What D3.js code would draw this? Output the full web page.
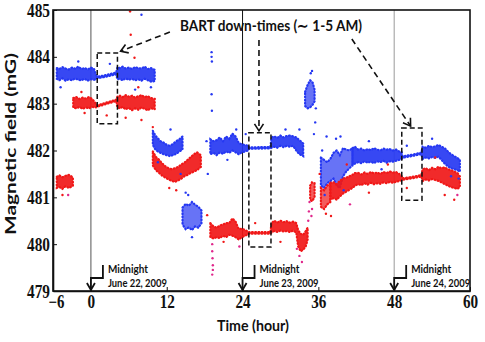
<!DOCTYPE html>
<html>
<head>
<meta charset="utf-8">
<script src="https://cdn.jsdelivr.net/npm/d3@7"></script>
<style>
  body { margin: 0; background: #fff; }
  svg { display: block; }
  .tick text { font-family: "Liberation Serif", serif; font-weight: bold; font-size: 18px; fill: #111; }
  .lbl { font-family: Lato, "Open Sans", sans-serif; font-weight: bold; fill: #111; }
</style>
</head>
<body>
<svg width="485" height="342"></svg>
<script>
// dense band samples: time (h), lower and upper edge of the dot cloud (mG); null = gap
const blueT = [-5.4, -5.0, -4.5, -4.0, -3.5, -3.0, -2.5, -2.0, -1.5, -1.0, -0.5, 0.0, 0.5, 0.8,
  1.0, 2.0, 3.0, 4.0,
  4.2, 4.6, 5.0, 5.5, 6.0, 6.5, 7.0, 7.5, 8.0, 8.5, 9.0, 9.5, 10.1, null,
  9.8, 10.2, 10.6, 11.0, 11.5, 12.0, 12.5, 13.0, 13.5, 14.0, 14.5, null,
  18.9, 19.4, 19.9, 20.4, 20.9, 21.4, 21.9, 22.4, 22.9, 23.4, 23.9, 24.4, 24.9,
  25.0, 26.5, 28.4,
  28.6, 29.0, 29.5, 30.0, 30.5, 31.0, 31.5, 32.0, 32.5, 33.0, 33.6, null,
  41.4, 41.8, 42.3, 42.8, 43.3, 43.8, 44.3, 44.8, 45.3, 45.8, 46.3, 46.8, 47.3, 47.8, 48.3, 48.8, 49.2,
  49.3, 50.8, 52.3,
  52.5, 53.0, 53.5, 54.0, 54.5, 55.0, 55.5, 56.0, 56.5, 57.0, 57.5, 58.0, 58.4];
const blueLo = [483.53, 483.50, 483.54, 483.49, 483.52, 483.50, 483.54, 483.51, 483.50, 483.53, 483.49, 483.52, 483.51, 483.52,
  483.545, 483.565, 483.595, 483.625,
  483.52, 483.53, 483.50, 483.54, 483.51, 483.53, 483.50, 483.52, 483.49, 483.53, 483.50, 483.47, 483.48, null,
  482.12, 482.02, 481.98, 481.95, 481.92, 481.90, 481.88, 481.90, 481.93, 481.98, 482.02, null,
  481.92, 481.95, 481.90, 481.96, 481.93, 481.98, 481.95, 482.00, 481.96, 481.92, 481.96, 481.98, 482.00,
  482.035, 482.04, 482.045,
  482.06, 482.08, 482.06, 482.10, 482.07, 482.10, 482.08, 482.10, 482.00, 481.92, 481.88, null,
  481.70, 481.72, 481.75, 481.73, 481.77, 481.74, 481.76, 481.73, 481.77, 481.75, 481.78, 481.74, 481.77, 481.76, 481.78, 481.80, 481.82,
  481.845, 481.88, 481.925,
  481.82, 481.85, 481.83, 481.86, 481.84, 481.87, 481.80, 481.72, 481.66, 481.62, 481.60, 481.58, 481.55];
const blueHi = [483.76, 483.74, 483.78, 483.75, 483.73, 483.77, 483.75, 483.79, 483.74, 483.76, 483.73, 483.77, 483.74, 483.62,
  483.575, 483.60, 483.63, 483.665,
  483.78, 483.76, 483.79, 483.75, 483.77, 483.74, 483.78, 483.76, 483.75, 483.79, 483.74, 483.76, 483.72, null,
  482.42, 482.32, 482.26, 482.20, 482.17, 482.12, 482.10, 482.14, 482.20, 482.24, 482.30, null,
  482.24, 482.20, 482.22, 482.28, 482.20, 482.30, 482.25, 482.36, 482.30, 482.16, 482.13, 482.12, 482.10,
  482.065, 482.07, 482.075,
  482.28, 482.30, 482.27, 482.32, 482.28, 482.31, 482.32, 482.30, 482.28, 482.22, 482.15, null,
  482.05, 482.08, 482.02, 482.04, 482.00, 482.03, 482.01, 482.05, 482.02, 482.00, 482.04, 482.02, 482.03, 482.00, 482.02, 481.98, 481.96,
  481.875, 481.91, 481.955,
  482.08, 482.06, 482.10, 482.07, 482.09, 482.12, 482.08, 482.05, 481.98, 481.92, 481.88, 481.84, 481.80];

// sparse clouds (loosely scattered dots)
const blueSparseT = [14.5, 15.0, 15.5, 16.0, 16.5, 17.0, 17.5, null,
  33.9, 34.3, 34.7, 35.1, 35.4, null,
  36.4, 36.9, 37.4, 37.9, 38.4, 38.9, 39.4, 39.9, 40.4, 40.9, 41.4];
const blueSparseLo = [480.42, 480.32, 480.36, 480.30, 480.38, 480.35, 480.45, null,
  482.95, 482.90, 482.92, 482.98, 483.05, null,
  481.25, 481.20, 481.30, 481.35, 481.40, 481.25, 481.20, 481.45, 481.55, 481.62, 481.68];
const blueSparseHi = [480.78, 480.86, 480.82, 480.90, 480.84, 480.80, 480.72, null,
  483.25, 483.40, 483.50, 483.45, 483.30, null,
  481.85, 481.80, 481.75, 481.82, 481.95, 482.00, 481.90, 482.05, 482.02, 482.00, 482.05];

const redT = [-5.4, -5.0, -4.5, -4.0, -3.5, -3.0, -2.85, null,
  -2.8, -2.3, -1.8, -1.3, -0.8, -0.3, 0.2, 0.8,
  1.0, 2.0, 3.0, 4.0,
  4.2, 4.6, 5.0, 5.5, 6.0, 6.5, 7.0, 7.5, 8.0, 8.5, 9.0, 9.5, 10.1, null,
  9.8, 10.3, 10.8, 11.3, 11.8, 12.3, 12.8, 13.3, 13.8, 14.3, 14.8, 15.3, 15.8, 16.3, 16.8, 17.4, null,
  18.9, 19.4, 19.9, 20.4, 20.9, 21.4, 21.9, 22.4, 22.9, 23.4, 23.9, 24.4, 24.9,
  25.0, 26.5, 28.4,
  28.6, 29.0, 29.5, 30.0, 30.5, 31.0, 31.5, 32.0, 32.5, 32.8, 33.2, 33.6, 34.0, 34.3, null,
  37.9, 38.4, 38.9, 39.4, 39.9, 40.4, 40.9, 41.4, 41.8,
  42.3, 42.8, 43.3, 43.8, 44.3, 44.8, 45.3, 45.8, 46.3, 46.8, 47.3, 47.8, 48.3, 48.8, 49.2,
  49.3, 50.8, 52.3,
  52.5, 53.0, 53.5, 54.0, 54.5, 55.0, 55.5, 56.0, 56.5, 57.0, 57.5, 58.0, 58.4];
const redLo = [481.20, 481.22, 481.18, 481.24, 481.20, 481.23, 481.25, null,
  482.92, 482.90, 482.93, 482.89, 482.92, 482.90, 482.93, 482.92,
  482.935, 482.975, 483.015, 483.055,
  482.92, 482.90, 482.93, 482.88, 482.91, 482.86, 482.90, 482.87, 482.92, 482.89, 482.86, 482.90, 482.88, null,
  481.68, 481.58, 481.52, 481.46, 481.42, 481.38, 481.35, 481.33, 481.36, 481.40, 481.45, 481.48, 481.52, 481.55, 481.58, 481.65, null,
  480.15, 480.12, 480.15, 480.13, 480.18, 480.15, 480.20, 480.18, 480.15, 480.10, 480.15, 480.18, 480.21,
  480.225, 480.225, 480.225,
  480.25, 480.28, 480.26, 480.29, 480.27, 480.28, 480.26, 480.29, 480.25, 479.95, 479.85, 479.88, 479.95, 480.10, null,
  480.95, 480.98, 480.95, 481.02, 481.08, 481.12, 481.16, 481.20, 481.25,
  481.28, 481.26, 481.30, 481.27, 481.31, 481.28, 481.30, 481.29, 481.32, 481.30, 481.33, 481.31, 481.33, 481.35, 481.36,
  481.375, 481.405, 481.445,
  481.35, 481.38, 481.36, 481.39, 481.37, 481.35, 481.32, 481.28, 481.25, 481.22, 481.20, 481.18, 481.22];
const redHi = [481.44, 481.47, 481.43, 481.46, 481.48, 481.44, 481.42, null,
  483.12, 483.14, 483.10, 483.13, 483.11, 483.14, 483.10, 483.00,
  482.965, 483.005, 483.045, 483.085,
  483.15, 483.17, 483.14, 483.18, 483.15, 483.17, 483.13, 483.16, 483.18, 483.14, 483.16, 483.12, 483.10, null,
  481.98, 481.86, 481.80, 481.72, 481.66, 481.62, 481.60, 481.62, 481.65, 481.70, 481.74, 481.80, 481.86, 481.92, 481.96, 481.90, null,
  480.45, 480.38, 480.35, 480.40, 480.42, 480.45, 480.45, 480.55, 480.48, 480.32, 480.33, 480.30, 480.27,
  480.255, 480.255, 480.255,
  480.45, 480.50, 480.46, 480.50, 480.47, 480.49, 480.46, 480.48, 480.45, 480.30, 480.22, 480.20, 480.28, 480.35, null,
  481.30, 481.32, 481.28, 481.35, 481.40, 481.42, 481.45, 481.48, 481.52,
  481.52, 481.49, 481.53, 481.50, 481.54, 481.51, 481.53, 481.50, 481.54, 481.52, 481.55, 481.53, 481.54, 481.50, 481.45,
  481.405, 481.435, 481.475,
  481.60, 481.62, 481.58, 481.63, 481.60, 481.65, 481.62, 481.64, 481.60, 481.58, 481.55, 481.52, 481.45];

const redSparseT = [34.7, 35.0, 35.4, null, 36.4, 36.9, 37.4, 37.9];
const redSparseLo = [480.95, 480.92, 481.00, null, 480.80, 480.75, 480.85, 480.90];
const redSparseHi = [481.25, 481.32, 481.30, null, 481.20, 481.15, 481.25, 481.30];

// stray samples outside the main clouds [time, field]
const blueStray = [[8.0, 484.9], [19.1, 484.1], [19.1, 484.0], [19.15, 483.9], [19.1, 483.2], [19.15, 482.85],
  [18.3, 482.2], [18.5, 481.5], [15.0, 481.1], [16.0, 480.15], [15.4, 481.05], [35.5, 482.6], [35.6, 482.9],
  [35.3, 482.35], [34.8, 483.65], [35.0, 483.7], [-4.8, 483.35], [7.0, 483.3], [9.5, 483.35], [12.6, 482.45],
  [24.5, 482.35], [30.8, 482.45], [37.3, 482.3], [38.8, 482.25], [44.0, 482.2], [54.0, 482.25], [57.0, 481.45],
  [58.2, 481.4], [21.6, 481.8], [37.0, 481.05], [40.0, 481.15], [46.0, 481.6], [-2.0, 483.9], [3.0, 483.85],
  [10.6, 481.75], [14.2, 481.5], [23.0, 482.45], [33.0, 482.45], [36.6, 482.0], [39.5, 482.3], [50.0, 482.1]];
const redStray = [[6.2, 484.97], [6.3, 484.47], [6.9, 483.98], [-1.5, 483.25], [2.5, 482.75], [5.5, 482.7],
  [8.0, 482.65], [9.8, 482.5], [12.4, 481.2], [13.5, 481.15], [18.4, 480.62], [-4.5, 481.05], [-1.0, 482.8],
  [7.5, 483.35], [21.0, 480.05], [26.0, 480.45], [30.0, 480.05], [38.0, 480.6], [37.2, 480.65], [44.0, 481.1],
  [50.0, 481.2], [56.0, 481.05], [57.5, 480.95], [36.2, 481.5], [40.5, 481.7], [47.0, 481.7], [54.5, 481.85]];
const pinkStray = [[19.2, 480.0], [19.2, 479.85], [19.25, 479.7], [19.3, 479.55], [19.3, 479.45], [19.2, 479.35],
  [33.4, 479.62], [33.0, 479.75], [34.4, 480.5], [34.5, 480.7], [34.6, 480.9], [34.9, 480.6], [35.0, 480.75],
  [23.5, 479.95], [32.6, 479.9], [41.0, 480.85], [58.0, 481.05], [-3.6, 481.05]];

const xTicks = [-6, 0, 12, 24, 36, 48, 60];
const yTicks = [479, 480, 481, 482, 483, 484, 485];

// annotation: down-time boxes [t0, t1, v0, v1] and arrows [tFrom, vFrom, tTo, vTo]
const downBoxes = [[1.0, 4.2, 482.57, 484.08], [25.0, 28.5, 479.94, 482.38], [49.2, 52.4, 480.94, 482.48]];
const downArrows = [[12.5, 484.53, 4.7, 484.12], [26.6, 484.36, 26.6, 482.42], [41.3, 484.38, 50.6, 482.52]];
const midnights = [0, 24, 48];
const midnightDates = ["June 22, 2009", "June 23, 2009", "June 24, 2009"];
const midnightColors = ["#555", "#111", "#999"];

const svg = d3.select("svg");
const x = d3.scaleLinear().domain([-6, 60]).range([53, 470]);
const y = d3.scaleLinear().domain([479, 485]).range([291, 10]);

const BLUE = "#2638f2", RED = "#f01818", PINK = "#e0288c";

svg.append("defs").append("marker")
  .attr("id", "vhead")
  .attr("viewBox", "-8 -6 10 12")
  .attr("markerWidth", 10).attr("markerHeight", 12)
  .attr("markerUnits", "userSpaceOnUse")
  .attr("refX", 0).attr("refY", 0)
  .attr("orient", "auto")
  .append("path")
  .attr("d", "M-7,-4.5 L0,0 L-7,4.5")
  .attr("fill", "none").attr("stroke", "#111").attr("stroke-width", 1.6);

// midnight guide lines
svg.selectAll("line.mid")
  .data(midnights)
  .enter()
  .append("line")
  .attr("class", "mid")
  .attr("x1", d => x(d)).attr("x2", d => x(d))
  .attr("y1", y(485)).attr("y2", y(479))
  .attr("stroke", (d, i) => midnightColors[i])
  .attr("stroke-width", 1);

const band = d3.area()
  .defined(d => d.t !== null)
  .x(d => x(d.t))
  .y0(d => y(d.lo))
  .y1(d => y(d.hi));

function rows(ts, los, his) {
  return ts.map((t, i) => ({t: t, lo: los[i], hi: his[i]}));
}

const series = [
  {rows: rows(blueSparseT, blueSparseLo, blueSparseHi), color: BLUE, op: 0.7},
  {rows: rows(redSparseT, redSparseLo, redSparseHi), color: RED, op: 0.7},
  {rows: rows(blueT, blueLo, blueHi), color: BLUE, op: 0.92},
  {rows: rows(redT, redLo, redHi), color: RED, op: 0.92}
];

series.forEach(s => {
  svg.append("path")
    .datum(s.rows)
    .attr("d", band)
    .attr("fill", s.color)
    .attr("fill-opacity", s.op)
    .attr("stroke", s.color)
    .attr("stroke-width", 2.2)
    .attr("stroke-dasharray", "0.8,2.4")
    .attr("stroke-linecap", "round");
});

const strays = [
  {pts: blueStray, color: BLUE},
  {pts: redStray, color: RED},
  {pts: pinkStray, color: PINK}
];
strays.forEach(s => {
  svg.append("g")
    .selectAll("circle")
    .data(s.pts)
    .enter()
    .append("circle")
    .attr("cx", d => x(d[0]))
    .attr("cy", d => y(d[1]))
    .attr("r", 1.2)
    .attr("fill", s.color);
});

// dashed boxes around down-times
svg.selectAll("rect.down")
  .data(downBoxes)
  .enter()
  .append("rect")
  .attr("class", "down")
  .attr("x", d => x(d[0]))
  .attr("y", d => y(d[3]))
  .attr("width", d => x(d[1]) - x(d[0]))
  .attr("height", d => y(d[2]) - y(d[3]))
  .attr("fill", "none")
  .attr("stroke", "#111")
  .attr("stroke-width", 1.5)
  .attr("stroke-dasharray", "5,3");

svg.selectAll("line.arrow")
  .data(downArrows)
  .enter()
  .append("line")
  .attr("class", "arrow")
  .attr("x1", d => x(d[0])).attr("y1", d => y(d[1]))
  .attr("x2", d => x(d[2])).attr("y2", d => y(d[3]))
  .attr("stroke", "#111")
  .attr("stroke-width", 1.6)
  .attr("stroke-dasharray", "6,4")
  .attr("marker-end", "url(#vhead)");

svg.append("text")
  .attr("class", "lbl")
  .attr("x", 180).attr("y", 31)
  .attr("font-size", 15)
  .attr("textLength", 182)
  .attr("lengthAdjust", "spacingAndGlyphs")
  .text("BART down-times (\u223C 1-5 AM)");

// midnight markers
const mid = svg.selectAll("g.midnight")
  .data(midnights)
  .enter()
  .append("g")
  .attr("class", "midnight")
  .attr("transform", d => `translate(${x(d)},0)`);

mid.append("path")
  .attr("d", `M12,${y(479) - 26} V${y(479) - 13} H0 V${y(479) - 1}`)
  .attr("fill", "none")
  .attr("stroke", "#111")
  .attr("stroke-width", 1.8);

mid.append("path")
  .attr("d", `M-4,${y(479) - 8} L0,${y(479) - 1} L4,${y(479) - 8}`)
  .attr("fill", "none")
  .attr("stroke", "#111")
  .attr("stroke-width", 1.8);

mid.append("text")
  .attr("class", "lbl")
  .attr("x", 17).attr("y", y(479) - 18)
  .attr("font-size", 11)
  .attr("textLength", 40)
  .attr("lengthAdjust", "spacingAndGlyphs")
  .text("Midnight");

mid.append("text")
  .attr("class", "lbl")
  .attr("x", 17).attr("y", y(479) - 4)
  .attr("font-size", 11)
  .attr("textLength", 59)
  .attr("lengthAdjust", "spacingAndGlyphs")
  .text((d, i) => midnightDates[i]);

// frame and axes
svg.append("rect")
  .attr("x", x(-6)).attr("y", y(485))
  .attr("width", x(60) - x(-6)).attr("height", y(479) - y(485))
  .attr("fill", "none")
  .attr("stroke", "#111")
  .attr("stroke-width", 1.6);

const xAxis = svg.append("g")
  .attr("transform", `translate(0,${y(479)})`)
  .call(d3.axisBottom(x).tickValues(xTicks).tickSize(-4).tickSizeOuter(0)
    .tickFormat(d => d < 0 ? "\u2212" + Math.abs(d) : d));
xAxis.select(".domain").attr("stroke", "#111").attr("stroke-width", 1.6);
xAxis.selectAll(".tick line").attr("stroke", "#111");
xAxis.selectAll(".tick text")
  .attr("y", 17).attr("dy", 0)
  .attr("x", d => d < 0 ? 3 : 0)
  .attr("textLength", d => d < 0 ? 16 : String(d).length * 7.6)
  .attr("lengthAdjust", "spacingAndGlyphs");

const yAxis = svg.append("g")
  .attr("transform", `translate(${x(-6)},0)`)
  .call(d3.axisLeft(y).tickValues(yTicks).tickSize(-4).tickSizeOuter(0).tickFormat(d3.format("d")));
yAxis.select(".domain").attr("stroke", "#111").attr("stroke-width", 1.6);
yAxis.selectAll(".tick line").attr("stroke", "#111");
yAxis.selectAll(".tick text")
  .attr("x", -3).attr("dy", "0.34em")
  .attr("textLength", 23)
  .attr("lengthAdjust", "spacingAndGlyphs");

svg.append("text")
  .attr("class", "lbl")
  .attr("x", 253).attr("y", 331)
  .attr("text-anchor", "middle")
  .attr("font-size", 16)
  .attr("textLength", 72)
  .attr("lengthAdjust", "spacingAndGlyphs")
  .text("Time (hour)");

svg.append("text")
  .attr("class", "lbl")
  .attr("transform", "translate(16,144) rotate(-90)")
  .attr("text-anchor", "middle")
  .attr("font-size", 15)
  .attr("textLength", 182)
  .attr("lengthAdjust", "spacingAndGlyphs")
  .text("Magnetic field (mG)");
</script>
</body>
</html>
